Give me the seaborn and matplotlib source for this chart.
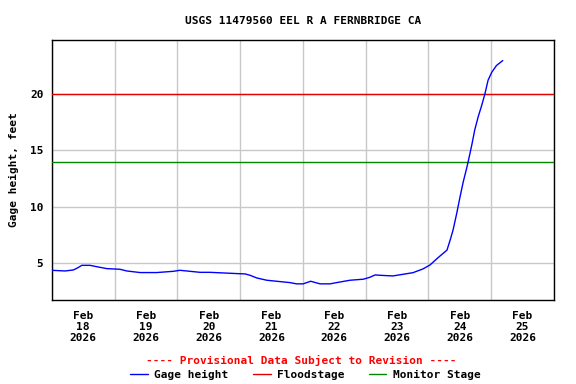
import matplotlib
matplotlib.use("Agg")
import matplotlib.pyplot as plt
import seaborn as sns
import pandas as pd

# hours since 2026-02-18 00:00 and gage height (ft)
hours = [0, 5.1, 8.3, 10.1, 11.5, 14.6, 17.2, 21.0, 26.1, 28.7, 33.8, 40.1,
         46.5, 49.0, 52.9, 56.7, 60.5, 70.7, 73.9, 75.8, 78.4, 82.2, 86.0,
         91.1, 93.6, 96.1, 99.0, 101.3, 102.6, 106.4, 108.9, 114.0, 119.1,
         121.6, 123.6, 125.4, 130.4, 138.1, 141.9, 144.6, 147.7, 151.1,
         152.3, 153.4, 154.8, 156.1, 157.3, 158.6, 159.2, 160.6, 161.7,
         163.0, 164.4, 165.6, 166.8, 168.2, 170.0, 172.4]
gage = [4.38, 4.32, 4.41, 4.62, 4.82, 4.82, 4.70, 4.53, 4.47, 4.32, 4.18, 4.18,
        4.29, 4.38, 4.29, 4.20, 4.20, 4.09, 4.06, 3.94, 3.70, 3.50, 3.41,
        3.29, 3.18, 3.18, 3.41, 3.26, 3.18, 3.18, 3.29, 3.50, 3.59,
        3.76, 3.97, 3.94, 3.88, 4.17, 4.50, 4.85, 5.5, 6.17,
        7.05, 7.93, 9.4, 10.9, 12.2, 13.4, 14.0, 15.5, 16.8,
        17.95, 19.0, 20.0, 21.2, 21.9, 22.5, 22.94]
flood_stage = 20
monitor_stage = 14
day_labels = ["Feb\n18\n2026", "Feb\n19\n2026", "Feb\n20\n2026", "Feb\n21\n2026",
              "Feb\n22\n2026", "Feb\n23\n2026", "Feb\n24\n2026", "Feb\n25\n2026"]

start = pd.Timestamp("2026-02-18 00:00")
df = pd.DataFrame({"time": start + pd.to_timedelta(hours, unit="h"), "gage": gage})

sns.set_style("white")
plt.rcParams["font.family"] = ["DejaVu Sans Mono"]
plt.rcParams["font.weight"] = "bold"
plt.rcParams["text.color"] = "black"
plt.rcParams["xtick.color"] = "black"
plt.rcParams["ytick.color"] = "black"
plt.rcParams["axes.labelcolor"] = "black"

fig = plt.figure(figsize=(5.76, 3.84), dpi=100)
ax = fig.add_axes([0.0898, 0.219, 0.872, 0.678])

ax.axhline(flood_stage, color="#e00000", lw=1, label="Floodstage", zorder=3)
ax.axhline(monitor_stage, color="#008800", lw=1, label="Monitor Stage", zorder=3)
sns.lineplot(data=df, x="time", y="gage", color="#0000ff", lw=1, ax=ax,
             label="Gage height", zorder=4)

ax.set_xlim(start, start + pd.Timedelta(days=8))
ax.set_ylim(1.76, 24.8)

midnights = [start + pd.Timedelta(days=i) for i in range(9)]
noons = [start + pd.Timedelta(hours=12 + 24 * i) for i in range(8)]
ax.set_xticks(midnights)
ax.set_xticklabels([])
ax.set_xticks(noons, minor=True)
ax.set_xticklabels(day_labels, minor=True, fontsize=8, fontweight="bold",
                   linespacing=1.15)
ax.tick_params(axis="x", which="both", length=0, pad=8)
ax.set_yticks([5, 10, 15, 20])
ax.set_yticklabels(["5", "10", "15", "20"], fontsize=8, fontweight="bold")
ax.tick_params(axis="y", length=0, pad=6)
ax.grid(True, which="major", color="#c8c8c8", lw=1)

for s in ax.spines.values():
    s.set_color("black")
    s.set_linewidth(1)
    s.set_visible(True)

ax.set_xlabel("")
ax.set_ylabel("Gage height, feet", fontsize=8, fontweight="bold", labelpad=8)
ax.set_title("USGS 11479560 EEL R A FERNBRIDGE CA", fontsize=8, fontweight="bold", pad=11.5)

ax.get_legend().remove()
handles, labels = ax.get_legend_handles_labels()
order = [labels.index(l) for l in ["Gage height", "Floodstage", "Monitor Stage"]]
fig.legend([handles[i] for i in order], [labels[i] for i in order],
           loc="center", bbox_to_anchor=(0.53, 0.024), ncol=3, frameon=False,
           handlelength=1.6, handletextpad=0.55, columnspacing=2.2,
           prop={"family": "DejaVu Sans Mono", "weight": "bold", "size": 8})

fig.text(0.523, 0.0607, "---- Provisional Data Subject to Revision ----",
         color="#ff0000", ha="center", va="center", fontsize=8, fontweight="bold")

fig.savefig("out.png", dpi=100)
